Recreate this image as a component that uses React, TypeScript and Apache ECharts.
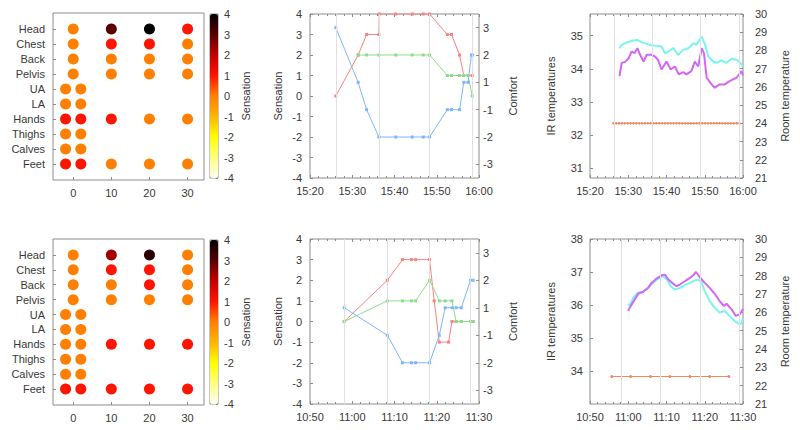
import React, { useEffect, useRef } from "react";
import * as echarts from "echarts";

// ---------- data ----------
const bodyParts = ["Head", "Chest", "Back", "Pelvis", "UA", "LA", "Hands", "Thighs", "Calves", "Feet"];
const bodyXTicks = [0, 10, 20, 30];
const palette = ["#fffff2", "#ffff80", "#ffff00", "#ffb400", "#ff8000", "#ff1400", "#c00000", "#580000", "#000000"];

// [minute offset, body part index, sensation]
const heatTop = [
  [0, 0, 0], [10, 0, 3], [20, 0, 4], [30, 0, 1],
  [0, 1, 0], [10, 1, 1], [20, 1, 1], [30, 1, 0],
  [0, 2, 0], [10, 2, 0], [20, 2, 0], [30, 2, 0],
  [0, 3, 0], [10, 3, 0], [20, 3, 0], [30, 3, 0],
  [-2, 4, 0], [2, 4, 0],
  [-2, 5, 0], [2, 5, 0],
  [-2, 6, 1], [2, 6, 1], [10, 6, 1], [20, 6, 0], [30, 6, 0],
  [-2, 7, 0], [2, 7, 0],
  [-2, 8, 0], [2, 8, 0],
  [-2, 9, 1], [2, 9, 1], [10, 9, 0], [20, 9, 0], [30, 9, 0],
];
const heatBottom = [
  [0, 0, 0], [10, 0, 2.3], [20, 0, 3.5], [30, 0, 0],
  [0, 1, 0], [10, 1, 1], [20, 1, 1], [30, 1, 0],
  [0, 2, 0], [10, 2, 0], [20, 2, 1], [30, 2, 0],
  [0, 3, 0], [10, 3, 0], [20, 3, 0], [30, 3, 0],
  [-2, 4, 0], [2, 4, 0],
  [-2, 5, 0], [2, 5, 0],
  [-2, 6, 0], [2, 6, 0], [10, 6, 1], [20, 6, 1], [30, 6, 1],
  [-2, 7, 0], [2, 7, 0],
  [-2, 8, 0], [2, 8, 0],
  [-2, 9, 1], [2, 9, 1], [10, 9, 1], [20, 9, 1], [30, 9, 1],
];

const timeLabelsTop = ["15:20", "15:30", "15:40", "15:50", "16:00"];
const timeLabelsBottom = ["10:50", "11:00", "11:10", "11:20", "11:30"];
const comfortTicks = [3, 2, 1, -1, -2, -3];

// minutes after the first tick label
const sensRedTop = [[6.1, 0], [11.4, 2], [13.4, 3], [16.3, 3], [16.4, 4], [20.3, 4], [24.2, 4], [26.8, 4], [28.3, 4], [32.5, 3], [33.5, 3], [35.4, 2], [36.4, 1], [38.4, 1]];
const sensGreenTop = [[11.4, 2], [13.4, 2], [16.3, 2], [20.3, 2], [24.2, 2], [26.8, 2], [28.3, 2], [32.5, 1], [33.5, 1], [35.4, 1], [36.4, 1], [37.4, 1], [38.4, 0]];
const comfortTop = [[6.1, 3], [11.4, 1], [13.4, -1], [16.3, -2], [20.3, -2], [24.2, -2], [26.8, -2], [28.3, -2], [32.5, -1], [33.5, -1], [35.4, -1], [36.4, 1], [37.4, 1], [38.2, 2], [38.5, 2]];
const eventsTopB = [6.1, 16.3, 28.3, 38.3];

const sensRedBottom = [[8.1, 0], [18.3, 2], [21.9, 3], [24, 3], [25, 3], [28.3, 3], [29.4, 1], [30.6, -1], [32.8, -1], [33.6, 0], [34.6, 0], [35.8, 0], [38, 0], [38.6, 0]];
const sensGreenBottom = [[8.1, 0], [18.3, 1], [21.9, 1], [24, 1], [25, 1], [28.3, 2], [30.6, 1], [32, 1], [33.6, 1], [34.6, 0], [35.8, 0], [38, 0], [38.6, 0]];
const comfortBottom = [[8.1, 1], [18.3, -1], [21.9, -2], [24, -2], [25, -2], [28.3, -2], [30.6, -1], [32, 1], [33.6, 1], [34.6, 1], [35.8, 1], [38, 2], [38.6, 2]];
const eventsBottomB = [8.1, 18.3, 28.3, 38.0];

const irCyanTop = [[7.7, 34.62], [8.3, 34.72], [9.6, 34.79], [11.3, 34.85], [12.3, 34.87], [13.5, 34.8], [14.8, 34.75], [16.1, 34.71], [17.4, 34.69], [18.7, 34.67], [19.6, 34.47], [20.5, 34.52], [21.8, 34.62], [23.1, 34.42], [24.4, 34.57], [25.7, 34.62], [27, 34.77], [27.8, 34.72], [29.2, 34.97], [30.1, 34.72], [30.9, 34.37], [32.2, 34.22], [33.1, 34.18], [34.4, 34.25], [35.7, 34.18], [37, 34.3], [38.3, 34.27], [39.2, 34.19], [40, 34.07]];
const irMagentaTop = [[7.7, 33.78], [8.3, 34.18], [9.1, 34.2], [10, 34.3], [10.9, 34.52], [11.6, 34.47], [12.4, 34.62], [13.1, 34.42], [14, 34.22], [14.8, 34.42], [16.1, 34.42], [17, 34.37], [17.8, 34.27], [18.7, 33.98], [20, 34.22], [21.1, 33.98], [22.2, 34.07], [23.2, 33.83], [24.4, 33.9], [25.2, 33.83], [26.5, 33.93], [27.4, 34.22], [28.3, 34.07], [29.2, 34.62], [29.8, 34.47], [30.5, 33.73], [31.8, 33.53], [32.6, 33.43], [33.9, 33.53], [35.2, 33.53], [36.5, 33.63], [37.4, 33.68], [38.3, 33.73], [39.6, 33.93], [40, 33.8]];
const roomTop = [[6.1, 24], [6.85, 24], [7.6, 24], [8.35, 24], [9.1, 24], [9.85, 24], [10.6, 24], [11.35, 24], [12.1, 24], [12.85, 24], [13.6, 24], [14.35, 24], [15.1, 24], [15.85, 24], [16.6, 24], [17.35, 24], [18.1, 24], [18.85, 24], [19.6, 24], [20.35, 24], [21.1, 24], [21.85, 24], [22.6, 24], [23.35, 24], [24.1, 24], [24.85, 24], [25.6, 24], [26.35, 24], [27.1, 24], [27.85, 24], [28.6, 24], [29.35, 24], [30.1, 24], [30.85, 24], [31.6, 24], [32.35, 24], [33.1, 24], [33.85, 24], [34.6, 24], [35.35, 24], [36.1, 24], [36.85, 24], [37.6, 24], [38.35, 24], [39.1, 24]];
const eventsTopC = [6.3, 16.3, 28.9, 38.9];

const irCyanBottom = [[10, 36.04], [10.4, 35.97], [11.3, 36.22], [12.6, 36.37], [13.9, 36.4], [15.2, 36.52], [16.5, 36.67], [17.8, 36.8], [19.1, 36.87], [20.1, 36.77], [21.1, 36.57], [22.2, 36.47], [23.5, 36.52], [24.8, 36.6], [26.1, 36.67], [27.4, 36.74], [28.3, 36.77], [29.2, 36.67], [30, 36.42], [31.3, 36.12], [32.6, 35.92], [33.9, 35.77], [35.2, 35.82], [36.5, 35.67], [37.8, 35.52], [39, 35.42], [39.6, 35.44], [40, 35.6]];
const irMagentaBottom = [[10, 35.82], [10.4, 35.92], [11.7, 36.17], [12.6, 36.34], [13.9, 36.4], [15.2, 36.52], [16.1, 36.67], [17.4, 36.8], [18.7, 36.9], [19.6, 36.92], [20.5, 36.77], [21.8, 36.64], [22.6, 36.57], [23.5, 36.62], [24.8, 36.72], [26.1, 36.82], [27, 36.9], [27.7, 37.0], [28.7, 36.84], [30, 36.67], [31.3, 36.52], [32.6, 36.34], [33.9, 36.12], [35, 35.97], [35.7, 36.04], [37, 35.87], [38.1, 35.67], [39.2, 35.72], [40, 35.88]];
const roomBottom = [[5.7, 22.5], [10.6, 22.5], [15.8, 22.5], [20.9, 22.5], [26.1, 22.5], [31.3, 22.5], [36.3, 22.5]];
const eventsBottomC = [8.3, 18.4, 28.9, 38.9];

const irTicksTop = [31, 32, 33, 34, 35];
const irTicksBottom = [34, 35, 36, 37, 38];

// ---------- helpers ----------
const FONT = "Liberation Sans, Arial, sans-serif";
const TXT = "#383838";
const BORDER = "#8c8c8c";
const RED = "#fb8282";
const GREEN = "#8ddc8d";
const BLUE = "#7fb6fb";
const CYAN = "#7af4f0";
const MAGENTA = "#d266f6";
const ORANGE = "#ea8a62";

// comfort scale has no zero: map -3..-1,1..3 to evenly spaced positions on the -4..4 frame
const comfortPos = (c: number) => (c > 0 ? (4 * c - 2) / 3 : (4 * c + 2) / 3);
const comfortFromPos = (p: number) => Math.round(p > 0 ? (3 * p + 2) / 4 : (3 * p - 2) / 4);

const NOLINE = { show: false, onZero: false };
const label = (extra: any = {}) => ({ color: TXT, fontSize: 11, fontFamily: FONT, ...extra });
const tick = (extra: any = {}) => ({ show: true, inside: true, length: 3, lineStyle: { color: BORDER }, ...extra });
const nameStyle = { color: TXT, fontSize: 11, fontFamily: FONT };

function timeX(gridIndex: number, labels: string[]) {
  return {
    type: "value", gridIndex, min: 0, max: 40, interval: 10,
    axisLine: NOLINE, splitLine: { show: false },
    axisTick: tick(), minorTick: { show: true, splitNumber: 5, length: 2, lineStyle: { color: BORDER } },
    axisLabel: label({ margin: 7, formatter: (v: number) => labels[Math.round(v / 10)], showMinLabel: true, showMaxLabel: true }),
  };
}
function mirrorX(gridIndex: number) {
  return {
    type: "value", gridIndex, position: "top", min: 0, max: 40, interval: 10,
    axisLine: NOLINE, splitLine: { show: false }, axisLabel: { show: false },
    axisTick: tick(), minorTick: { show: true, splitNumber: 5, length: 2, lineStyle: { color: BORDER } },
  };
}
const vlines = (events: number[]) => ({
  silent: true, symbol: "none", animation: false,
  lineStyle: { color: "#e0e0e0", type: "solid", width: 1 },
  label: { show: false },
  data: events.map((t) => ({ xAxis: t })),
});
const lineSeries = (name: string, data: number[][], color: string, xAxisIndex: number, yAxisIndex: number, extra: any = {}) => ({
  name, type: "line", data, xAxisIndex, yAxisIndex,
  symbol: "rect", symbolSize: 3, showSymbol: true,
  lineStyle: { color, width: 1 }, itemStyle: { color },
  ...extra,
});

export default function App() {
  const ref = useRef<HTMLDivElement>(null);
  useEffect(() => {
    if (!ref.current) return;
    const chart = echarts.init(ref.current, null, { renderer: "svg" });

    const heatGrids = [
      { left: 53, top: 13, width: 151, height: 167 },
      { left: 53, top: 239, width: 151, height: 166 },
    ];
    const barGrids = [
      { left: 210, top: 14, width: 8, height: 164 },
      { left: 210, top: 240, width: 8, height: 164 },
    ];
    const bGrids = [
      { left: 310, top: 14, width: 169, height: 164 },
      { left: 310, top: 239, width: 169, height: 165 },
    ];
    const cGrids = [
      { left: 590, top: 14, width: 153, height: 164 },
      { left: 590, top: 239, width: 153, height: 165 },
    ];
    const grid = [...heatGrids, ...barGrids, ...bGrids, ...cGrids].map((g) => ({
      ...g, show: true, borderColor: BORDER, borderWidth: 1, backgroundColor: "transparent",
    }));

    const xAxis: any[] = [];
    const yAxis: any[] = [];
    // heat grids 0,1
    [0, 1].forEach((gi) => {
      xAxis.push({
        type: "value", gridIndex: gi, min: -5.3, max: 34.3,
        axisLine: NOLINE, splitLine: { show: false },
        axisTick: tick({ customValues: bodyXTicks }),
        axisLabel: label({ margin: 7, customValues: bodyXTicks }),
      });
      yAxis.push({
        type: "value", gridIndex: gi, inverse: true, min: -1.07, max: 10.07,
        axisLine: NOLINE, splitLine: { show: false },
        axisTick: tick({ customValues: bodyParts.map((_, i) => i) }),
        axisLabel: label({ margin: 8, customValues: bodyParts.map((_, i) => i), formatter: (v: number) => bodyParts[Math.round(v)] }),
      });
    });
    // colorbar grids 2,3
    [2, 3].forEach((gi) => {
      xAxis.push({ type: "value", gridIndex: gi, min: 0, max: 1, show: false, axisLine: NOLINE });
      yAxis.push({
        type: "value", gridIndex: gi, position: "right", min: -4, max: 4, interval: 1,
        axisLine: NOLINE, splitLine: { show: false },
        axisTick: tick({ length: 2 }),
        axisLabel: label({ margin: 6 }),
        name: "Sensation", nameLocation: "middle", nameRotate: 90, nameGap: 22, nameTextStyle: nameStyle,
      });
    });
    // B grids 4,5 ; C grids 6,7
    const bLabels = [timeLabelsTop, timeLabelsBottom];
    [4, 5].forEach((gi, k) => {
      xAxis.push(timeX(gi, bLabels[k]));
      xAxis.push(mirrorX(gi));
      yAxis.push({
        type: "value", gridIndex: gi, min: -4, max: 4, interval: 1,
        axisLine: NOLINE, splitLine: { show: false },
        axisTick: tick(), axisLabel: label({ margin: 8 }),
        name: "Sensation", nameLocation: "middle", nameRotate: 90, nameGap: 27, nameTextStyle: nameStyle,
      });
      const cp = comfortTicks.map(comfortPos);
      yAxis.push({
        type: "value", gridIndex: gi, position: "right", min: -4, max: 4,
        axisLine: NOLINE, splitLine: { show: false },
        axisTick: tick({ customValues: cp }),
        axisLabel: label({ margin: 4, customValues: cp, formatter: (v: number) => String(comfortFromPos(v)) }),
        name: "Comfort", nameLocation: "middle", nameRotate: 90, nameGap: 28, nameTextStyle: nameStyle,
      });
    });
    const cRanges = [
      { min: 30.71, max: 35.65, ticks: irTicksTop },
      { min: 33, max: 38, ticks: irTicksBottom },
    ];
    [6, 7].forEach((gi, k) => {
      xAxis.push(timeX(gi, bLabels[k]));
      xAxis.push(mirrorX(gi));
      yAxis.push({
        type: "value", gridIndex: gi, min: cRanges[k].min, max: cRanges[k].max,
        axisLine: NOLINE, splitLine: { show: false },
        axisTick: tick({ customValues: cRanges[k].ticks }),
        axisLabel: label({ margin: 7, customValues: cRanges[k].ticks }),
        name: "IR temperatures", nameLocation: "middle", nameRotate: 90, nameGap: 34, nameTextStyle: nameStyle,
      });
      yAxis.push({
        type: "value", gridIndex: gi, position: "right", min: 21, max: 30, interval: 1,
        axisLine: NOLINE, splitLine: { show: false },
        axisTick: tick(), axisLabel: label({ margin: 12 }),
        name: "Room temperature", nameLocation: "middle", nameRotate: 90, nameGap: 36, nameTextStyle: nameStyle,
      });
    });

    // x: heat 0,1; bar 2,3; B top 4(,5); B bottom 6(,7); C top 8(,9); C bottom 10(,11)
    // y: heat 0,1; bar 2,3; B top 4,5; B bottom 6,7; C top 8,9; C bottom 10,11
    const series: any[] = [
      { type: "scatter", data: heatTop, xAxisIndex: 0, yAxisIndex: 0, symbolSize: 11, itemStyle: { opacity: 1 } },
      { type: "scatter", data: heatBottom, xAxisIndex: 1, yAxisIndex: 1, symbolSize: 11, itemStyle: { opacity: 1 } },
      { type: "scatter", data: [], xAxisIndex: 2, yAxisIndex: 2 },
      { type: "scatter", data: [], xAxisIndex: 3, yAxisIndex: 3 },

      lineSeries("sensation", sensRedTop, RED, 4, 4, { markLine: vlines(eventsTopB), z: 3 }),
      lineSeries("overall", sensGreenTop, GREEN, 4, 4, { z: 4 }),
      lineSeries("comfort", comfortTop.map(([t, c]) => [t, comfortPos(c)]), BLUE, 4, 5, { z: 4 }),

      lineSeries("sensation", sensRedBottom, RED, 6, 6, { markLine: vlines(eventsBottomB), z: 3 }),
      lineSeries("overall", sensGreenBottom, GREEN, 6, 6, { z: 4 }),
      lineSeries("comfort", comfortBottom.map(([t, c]) => [t, comfortPos(c)]), BLUE, 6, 7, { z: 4 }),

      lineSeries("ir1", irCyanTop, CYAN, 8, 8, { showSymbol: false, symbol: "none", lineStyle: { color: CYAN, width: 2 }, markLine: vlines(eventsTopC), z: 3 }),
      lineSeries("ir2", irMagentaTop, MAGENTA, 8, 8, { showSymbol: false, symbol: "none", lineStyle: { color: MAGENTA, width: 2 }, z: 4 }),
      lineSeries("room", roomTop, ORANGE, 8, 9, { symbol: "circle", symbolSize: 2.5, z: 4 }),

      lineSeries("ir1", irCyanBottom, CYAN, 10, 10, { showSymbol: false, symbol: "none", lineStyle: { color: CYAN, width: 2 }, markLine: vlines(eventsBottomC), z: 3 }),
      lineSeries("ir2", irMagentaBottom, MAGENTA, 10, 10, { showSymbol: false, symbol: "none", lineStyle: { color: MAGENTA, width: 2 }, z: 4 }),
      lineSeries("room", roomBottom, ORANGE, 10, 11, { symbol: "circle", symbolSize: 3, z: 4 }),
    ];

    const vm = (seriesIndex: number, top: number, height: number) => ({
      type: "continuous", seriesIndex, min: -4, max: 4, dimension: 2,
      left: 210, top, itemWidth: 8, itemHeight: height, padding: 0,
      calculable: false, hoverLink: false, text: null, showLabel: false,
      inRange: { color: palette },
    });

    chart.setOption({
      animation: false,
      backgroundColor: "#ffffff",
      textStyle: { fontFamily: FONT },
      grid, xAxis, yAxis, series,
      visualMap: [vm(0, 14, 164), vm(1, 240, 164)],
    });
    return () => chart.dispose();
  }, []);

  return <div ref={ref} style={{ position: "fixed", left: 0, top: 0, width: 800, height: 430, background: "#fff" }} />;
}
